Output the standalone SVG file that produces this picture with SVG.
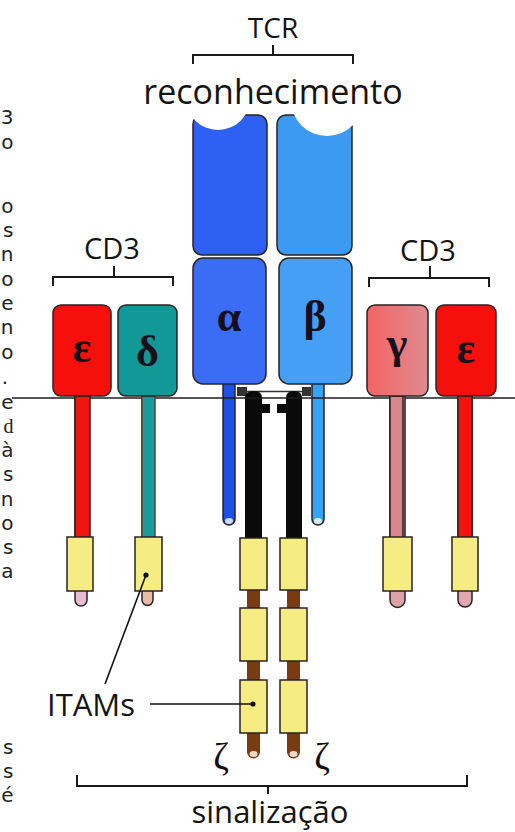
<svg xmlns="http://www.w3.org/2000/svg" width="515" height="832" viewBox="0 0 515 832">
<defs>
  <linearGradient id="gGamma" x1="0" x2="1" y1="0" y2="0">
    <stop offset="0" stop-color="#f46464"/>
    <stop offset="1" stop-color="#de8a90"/>
  </linearGradient>
  <!-- keeps the binding-site notches inside the variable domains -->
  <clipPath id="clipTop">
    <rect x="185" y="114" width="180" height="60"/>
  </clipPath>
</defs>
<style>
  .lbl { font-family: "Open Sans", "Liberation Sans", sans-serif; fill: #141414; text-anchor: middle; }
  .greek { font-family: "Liberation Serif", "DejaVu Serif", serif; font-weight: bold; fill: #16101a; text-anchor: middle; font-size: 44px; }
  .zeta { font-family: "Liberation Serif", "DejaVu Serif", serif; fill: #111; text-anchor: middle; font-size: 38px; }
  .edge { font-family: "DejaVu Sans", sans-serif; font-size: 20px; fill: #222; text-anchor: end; }
  .ol { stroke: #2b2222; stroke-width: 1.5; }
  .bracket { fill: none; stroke: #1a1a1a; stroke-width: 2; }
  .itam { fill: #f6ec84; stroke: #2b2222; stroke-width: 1.5; }
  .brown { fill: #7a3b12; }
  .lead { stroke: #111; stroke-width: 1.6; fill: none; }
  .hl { fill: #e8dcd0; }
</style>
<rect width="515" height="832" fill="#ffffff"/>

<!-- right edge of a wrapped text column -->
<g id="edge-text" class="edge">
  <text x="13.5" y="124">3</text>
  <text x="13.5" y="149">o</text>
  <text x="13.5" y="213">o</text>
  <text x="13.5" y="237">s</text>
  <text x="13.5" y="261">n</text>
  <text x="13.5" y="286">o</text>
  <text x="13.5" y="310">e</text>
  <text x="13.5" y="334">n</text>
  <text x="13.5" y="359">o</text>
  <text x="8" y="384">.</text>
  <text x="13.5" y="409">e</text>
  <text x="13.5" y="433" style="font-family:'Liberation Serif',serif">d</text>
  <text x="13.5" y="457">à</text>
  <text x="13.5" y="481">s</text>
  <text x="13.5" y="506">n</text>
  <text x="13.5" y="530">o</text>
  <text x="13.5" y="554">s</text>
  <text x="13.5" y="578">a</text>
  <text x="13.5" y="754">s</text>
  <text x="13.5" y="778">s</text>
  <text x="13.5" y="802">é</text>
</g>

<!-- TCR heading -->
<g id="tcr-label">
  <text class="lbl" x="273" y="38" font-size="28">TCR</text>
  <path class="bracket" d="M193,64 V55 H353 V64 M273,55 V45"/>
  <text class="lbl" x="273" y="104" font-size="34">reconhecimento</text>
</g>

<!-- alpha chain -->
<g id="tcr-alpha">
  <path class="ol" d="M223,383 V519 A6,6 0 0 0 235,519 V383 Z" fill="#1d50e6"/>
  <ellipse cx="229" cy="521" rx="4" ry="3" fill="#cfdcff"/>
  <rect class="ol" x="193" y="115" width="74" height="140" rx="9" fill="#2f60f4"/>
  <circle cx="218" cy="98" r="32" fill="#ffffff" clip-path="url(#clipTop)"/>
  <rect class="ol" x="193" y="258" width="73" height="126" rx="10" fill="#3a6cf5"/>
  <text class="greek" x="229" y="331">α</text>
</g>

<!-- beta chain -->
<g id="tcr-beta">
  <path class="ol" d="M312,383 V519 A6,6 0 0 0 324,519 V383 Z" fill="#3aa2f2"/>
  <ellipse cx="318" cy="521" rx="4" ry="3" fill="#d8ecff"/>
  <rect class="ol" x="277" y="115" width="75" height="140" rx="9" fill="#3d9af2"/>
  <circle cx="327" cy="100" r="36" fill="#ffffff" clip-path="url(#clipTop)"/>
  <rect class="ol" x="279" y="258" width="73" height="126" rx="10" fill="#45a0f5"/>
  <text class="greek" x="315" y="331">β</text>
</g>

<!-- interchain disulfide bond -->
<g id="disulfide">
  <path d="M247,391.5 H302" stroke="#333" stroke-width="1.5"/>
  <rect x="237" y="387" width="10" height="9" fill="#333"/>
  <rect x="302" y="387" width="9" height="9" fill="#333"/>
</g>

<!-- zeta homodimer -->
<g id="zeta-left">
  <path class="brown" d="M247,588 V752 A6.5,6.5 0 0 0 260,752 V588 Z"/>
  <ellipse cx="253.5" cy="754" rx="4" ry="3" class="hl"/>
  <path d="M245,539 V398 Q245,391 253.5,391 Q262,391 262,398 V539 Z" fill="#0a0a0a"/>
  <rect x="262" y="404" width="8" height="9" fill="#0a0a0a"/>
  <rect class="itam" x="240" y="538" width="27" height="52"/>
  <rect class="itam" x="240" y="608" width="27" height="53"/>
  <rect class="itam" x="240" y="680" width="27" height="53"/>
  <text class="zeta" x="221" y="769">ζ</text>
</g>
<g id="zeta-right">
  <path class="brown" d="M287,588 V752 A6.5,6.5 0 0 0 300,752 V588 Z"/>
  <ellipse cx="293.5" cy="754" rx="4" ry="3" class="hl"/>
  <path d="M286,539 V398 Q286,391 294,391 Q302,391 302,398 V539 Z" fill="#0a0a0a"/>
  <rect x="277" y="404" width="9" height="9" fill="#0a0a0a"/>
  <rect class="itam" x="280" y="538" width="27" height="52"/>
  <rect class="itam" x="280" y="608" width="27" height="53"/>
  <rect class="itam" x="280" y="680" width="27" height="53"/>
  <text class="zeta" x="322" y="769">ζ</text>
</g>

<!-- cell membrane -->
<g id="membrane">
  <path d="M12,398 H515" stroke="#1e1e1e" stroke-width="1.6"/>
</g>

<!-- CD3 epsilon/delta -->
<g id="cd3-left">
  <text class="lbl" x="112" y="259" font-size="29">CD3</text>
  <path class="bracket" d="M53,286 V277 H173 V286 M114,277 V266"/>
</g>
<g id="cd3-epsilon-left">
  <path class="ol" d="M75,396 V600 A6,6 0 0 0 87,600 V396 Z" fill="#e6bcd2"/>
  <rect class="ol" x="75" y="396" width="15" height="142" fill="#f2140e"/>
  <rect class="ol" x="53" y="305" width="58" height="91" rx="8" fill="#f5100c"/>
  <rect class="itam" x="67" y="537" width="26" height="54"/>
  <text class="greek" x="82" y="362">ε</text>
</g>
<g id="cd3-delta">
  <path class="ol" d="M142,396 V600 A5.5,5.5 0 0 0 153,600 V396 Z" fill="#e8bca8"/>
  <rect x="142" y="396" width="13" height="142" fill="#1a9a9a" stroke="#5a4630" stroke-width="1.5"/>
  <rect class="ol" x="118" y="305" width="59" height="91" rx="8" fill="#139898"/>
  <rect class="itam" x="135" y="537" width="27" height="54"/>
  <text class="greek" x="147.5" y="366">δ</text>
</g>

<!-- CD3 gamma/epsilon -->
<g id="cd3-right">
  <text class="lbl" x="428" y="261" font-size="29">CD3</text>
  <path class="bracket" d="M369,287 V278 H489 V287 M430,278 V266"/>
</g>
<g id="cd3-gamma">
  <path class="ol" d="M390,396 V600 A7.5,7.5 0 0 0 405,600 V396 Z" fill="#dca2aa"/>
  <rect class="ol" x="390" y="396" width="13" height="142" fill="#d8868c"/>
  <rect class="ol" x="367" y="305" width="61" height="91" rx="8" fill="url(#gGamma)"/>
  <rect class="itam" x="383" y="537" width="29" height="54"/>
  <text class="greek" x="397" y="358">γ</text>
</g>
<g id="cd3-epsilon-right">
  <path class="ol" d="M458,396 V600 A7,7 0 0 0 472,600 V396 Z" fill="#e2a8b0"/>
  <rect class="ol" x="458" y="396" width="14" height="142" fill="#f2140e"/>
  <rect class="ol" x="436" y="305" width="60" height="91" rx="8" fill="#f5100c"/>
  <rect class="itam" x="452" y="537" width="26" height="54"/>
  <text class="greek" x="466" y="363">ε</text>
</g>

<!-- ITAM callouts -->
<g id="itam-label">
  <text class="lbl" x="91" y="716" font-size="31">ITAMs</text>
</g>
<g id="connectors">
  <path class="lead" d="M150,704 H253"/>
  <circle cx="253" cy="704" r="2.6" fill="#111"/>
  <path class="lead" d="M105,684 L146,575"/>
  <circle cx="146" cy="575" r="2.6" fill="#111"/>
</g>

<!-- signalling bracket -->
<g id="signal-label">
  <path class="bracket" d="M77,775 V786 H467 V775 M268,786 V794"/>
  <text class="lbl" x="270" y="823" font-size="31">sinalização</text>
</g>
</svg>
